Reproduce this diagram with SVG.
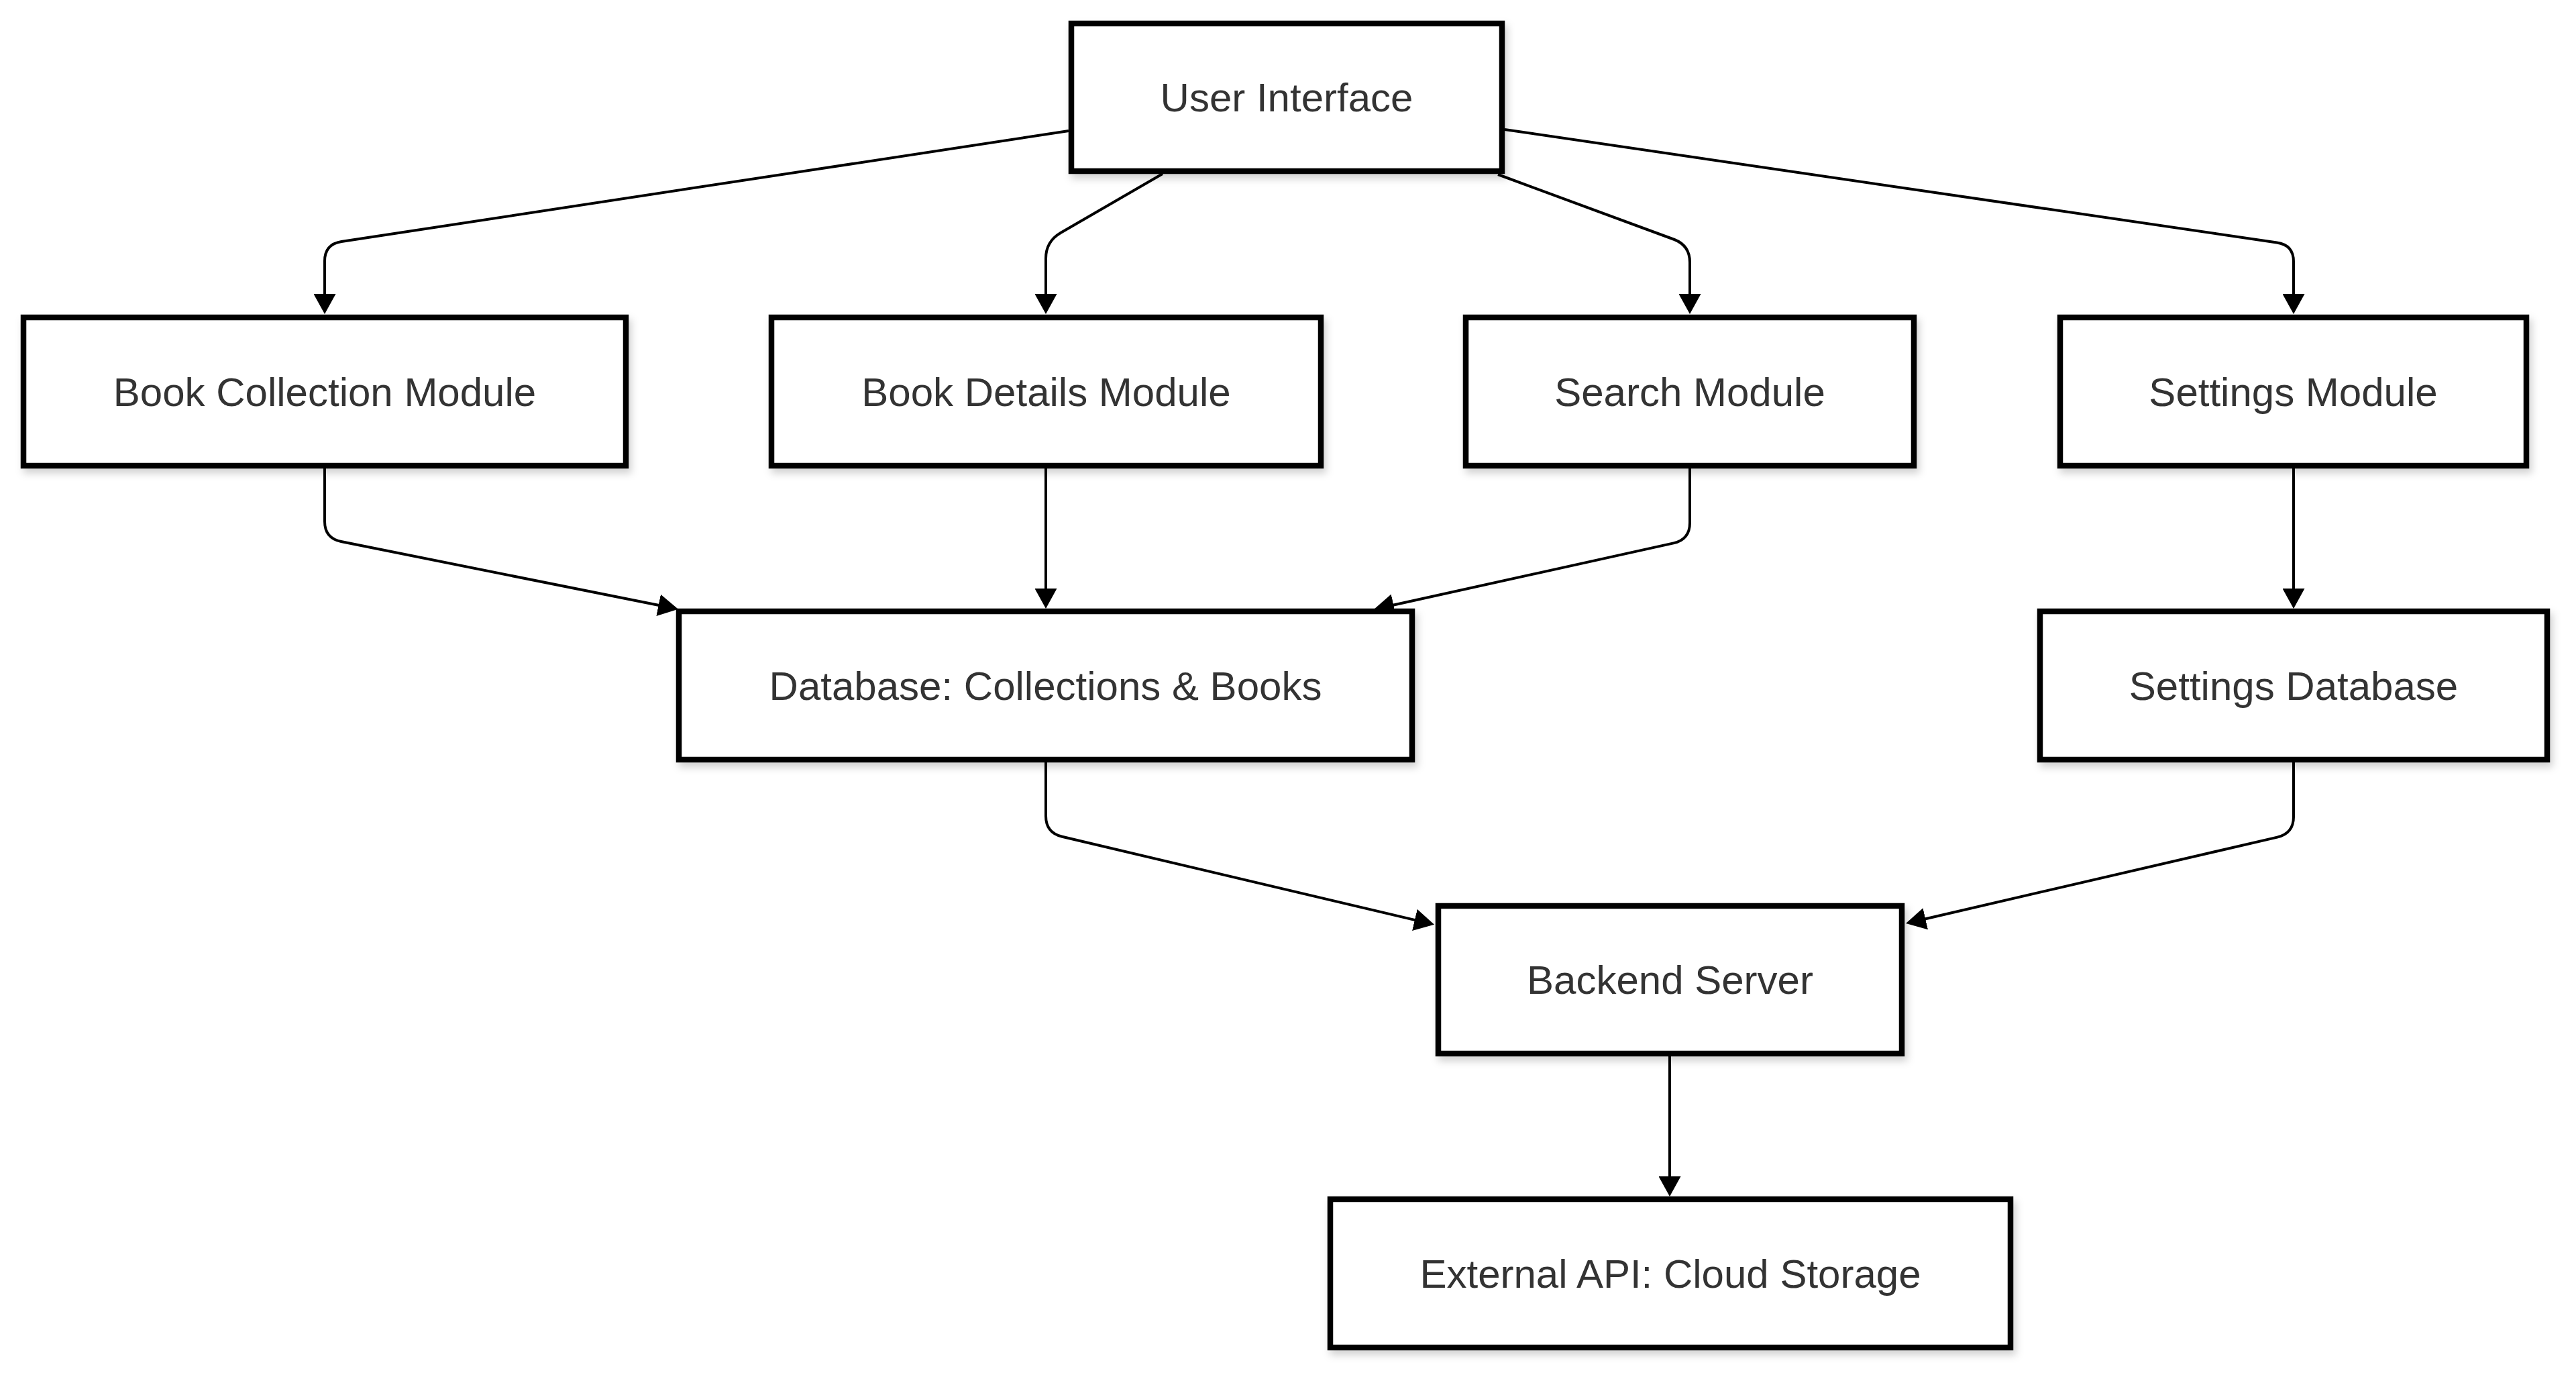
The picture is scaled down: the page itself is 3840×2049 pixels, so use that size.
<svg xmlns="http://www.w3.org/2000/svg" width="3840" height="2049" viewBox="0 0 3840 2049">
<style>
.node rect{fill:#ffffff;stroke:#000000;stroke-width:8.5;filter:url(#shadow)}
.node text{font-family:"Liberation Sans",Arial,sans-serif;font-size:60px;fill:#333333;text-anchor:middle}
.edge{fill:none;stroke:#000000;stroke-width:4;marker-end:url(#arrow)}
</style>
<defs>
<filter id="shadow" x="-10%" y="-10%" width="120%" height="130%">
<feDropShadow dx="4" dy="7" stdDeviation="6" flood-color="#000000" flood-opacity="0.18"/>
</filter>
<marker id="arrow" markerUnits="userSpaceOnUse" viewBox="0 0 30 33" markerWidth="30" markerHeight="33" refX="2" refY="16.5" orient="auto">
<path d="M0,0 L30,16.5 L0,33 z" fill="#000000"/>
</marker>
</defs>
<rect width="3840" height="2049" fill="#ffffff"/>
<g id="connectors">
<path class="edge" d="M1593,195 L509,360 Q484,364 484,389 L484,440"/>
<path class="edge" d="M1733,259 L1581,347 Q1559,360 1559,385 L1559,440"/>
<path class="edge" d="M2233,260 L2496,357 Q2519,366 2519,391 L2519,440"/>
<path class="edge" d="M2243,193 L3394,361.5 Q3419,365 3419,390 L3419,440"/>
<path class="edge" d="M484,698 L484,777 Q484,802 508.5,807 L983.6,902.3"/>
<path class="edge" d="M1559,698 L1559,879"/>
<path class="edge" d="M2519,698 L2519,779 Q2519,804 2494.6,809.4 L2075.4,902"/>
<path class="edge" d="M3419,698 L3419,879"/>
<path class="edge" d="M1559,1136 L1559,1216 Q1559,1241 1583.3,1246.8 L2110.8,1371.4"/>
<path class="edge" d="M3419,1136 L3419,1217 Q3419,1242 3394.6,1247.6 L2868.3,1369.7"/>
<path class="edge" d="M2489,1574 L2489,1755"/>
</g>
<g id="ui" class="node"><rect x="1597" y="35" width="642" height="220"/><text x="1918" y="166">User Interface</text></g>
<g id="book-collection" class="node"><rect x="35" y="473" width="898" height="221"/><text x="484" y="605">Book Collection Module</text></g>
<g id="book-details" class="node"><rect x="1150" y="473" width="819" height="221"/><text x="1559.5" y="605">Book Details Module</text></g>
<g id="search" class="node"><rect x="2185" y="473" width="668" height="221"/><text x="2519" y="605">Search Module</text></g>
<g id="settings" class="node"><rect x="3071" y="473" width="695" height="221"/><text x="3418.5" y="605">Settings Module</text></g>
<g id="database" class="node"><rect x="1012" y="911" width="1093" height="221"/><text x="1558.5" y="1043">Database: Collections &amp; Books</text></g>
<g id="settings-db" class="node"><rect x="3041" y="911" width="756" height="221"/><text x="3419" y="1043">Settings Database</text></g>
<g id="backend" class="node"><rect x="2144" y="1350" width="691" height="220"/><text x="2489.5" y="1481">Backend Server</text></g>
<g id="external" class="node"><rect x="1983" y="1787" width="1014" height="221"/><text x="2490" y="1919">External API: Cloud Storage</text></g>
</svg>
